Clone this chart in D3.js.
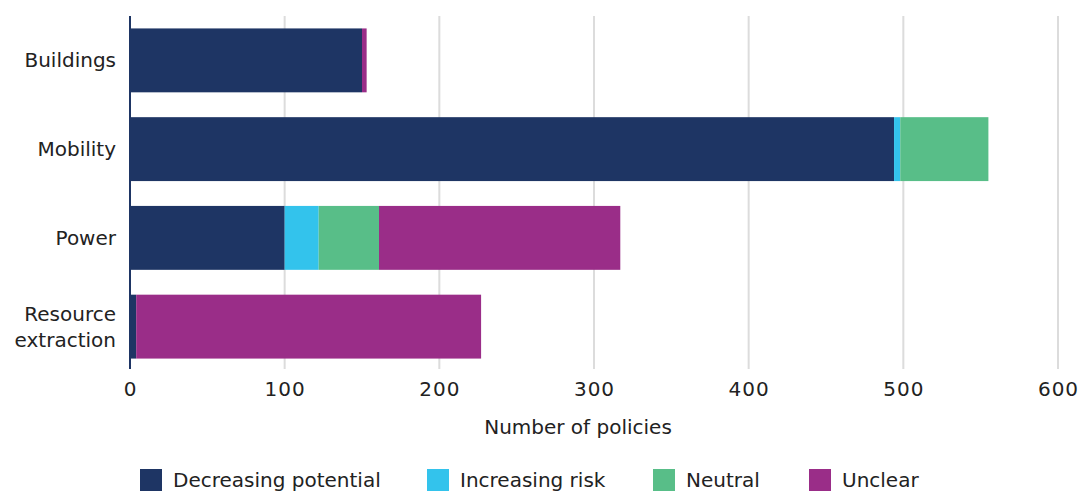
<!DOCTYPE html>
<html>
<head>
<meta charset="utf-8">
<script src="https://cdn.jsdelivr.net/npm/d3@7"></script>
<style>
  html, body { margin: 0; padding: 0; background: #fff; }
  svg { display: block; font-family: "DejaVu Sans", sans-serif; }
</style>
</head>
<body>
<svg id="chart" width="1081" height="492"></svg>
<script>
const categories = ["Buildings", "Mobility", "Power", "Resource extraction"];
const seriesNames = ["Decreasing potential", "Increasing risk", "Neutral", "Unclear"];
const decreasingPotential = [150, 494, 100, 4];
const increasingRisk = [0, 4, 22, 0];
const neutral = [0, 57, 39, 0];
const unclear = [3, 0, 156, 223];
const xTicks = [0, 100, 200, 300, 400, 500, 600];
const xTitle = "Number of policies";
const colors = ["#1e3564", "#33c3ec", "#58be88", "#9a2d88"];

const rows = categories.map((c, i) => ({
  category: c,
  "Decreasing potential": decreasingPotential[i],
  "Increasing risk": increasingRisk[i],
  "Neutral": neutral[i],
  "Unclear": unclear[i]
}));

const svg = d3.select("#chart");
const x = d3.scaleLinear().domain([0, 600]).range([130, 1058]);
const y = d3.scaleBand().domain(categories).range([16, 371]).paddingInner(0.28).paddingOuter(0.14);
const color = d3.scaleOrdinal().domain(seriesNames).range(colors);
const stack = d3.stack().keys(seriesNames)(rows);

// gridlines
svg.append("g").selectAll("line").data(xTicks.filter(d => d > 0)).join("line")
  .attr("x1", d => x(d)).attr("x2", d => x(d))
  .attr("y1", 16).attr("y2", 369)
  .attr("stroke", "#dcdcdc").attr("stroke-width", 2);

// bars
svg.append("g").selectAll("g").data(stack).join("g")
  .attr("fill", d => color(d.key))
  .selectAll("rect").data(d => d).join("rect")
  .attr("x", d => x(d[0]))
  .attr("width", d => Math.max(0, x(d[1]) - x(d[0])))
  .attr("y", d => y(d.data.category))
  .attr("height", y.bandwidth());

// baseline axis
svg.append("line")
  .attr("x1", x(0)).attr("x2", x(0)).attr("y1", 16).attr("y2", 369)
  .attr("stroke", "#1e3564").attr("stroke-width", 2);

// x axis labels
const xAxis = d3.axisBottom(x).tickValues(xTicks).tickSize(0).tickPadding(0);
const gx = svg.append("g").attr("transform", "translate(0,382)").call(xAxis);
gx.select(".domain").remove();
gx.selectAll("text").attr("font-size", 20).attr("fill", "#222")
  .attr("font-family", "DejaVu Sans, sans-serif").attr("letter-spacing", 1).attr("dy", "0.71em");

// y labels
const yLabelLines = { "Resource extraction": ["Resource", "extraction"] };
const gy = svg.append("g");
categories.forEach(c => {
  const lines = yLabelLines[c] || [c];
  const cy = y(c) + y.bandwidth() / 2;
  const t = gy.append("text").attr("x", 116).attr("text-anchor", "end")
    .attr("font-size", 20).attr("fill", "#222");
  lines.forEach((l, i) => {
    t.append("tspan").attr("x", 116)
      .attr("y", cy + (i - (lines.length - 1) / 2) * 26)
      .attr("dy", "0.35em").text(l);
  });
});

// x title
svg.append("text").attr("x", 578).attr("y", 434).attr("text-anchor", "middle")
  .attr("font-size", 20).attr("fill", "#222").text(xTitle);

// legend
const legendX = [140, 427, 653, 809];
const lg = svg.append("g");
seriesNames.forEach((s, i) => {
  lg.append("rect").attr("x", legendX[i]).attr("y", 469).attr("width", 22).attr("height", 22)
    .attr("fill", color(s));
  lg.append("text").attr("x", legendX[i] + 33).attr("y", 480).attr("dy", "0.35em")
    .attr("font-size", 20).attr("fill", "#222").text(s);
});
</script>
</body>
</html>
